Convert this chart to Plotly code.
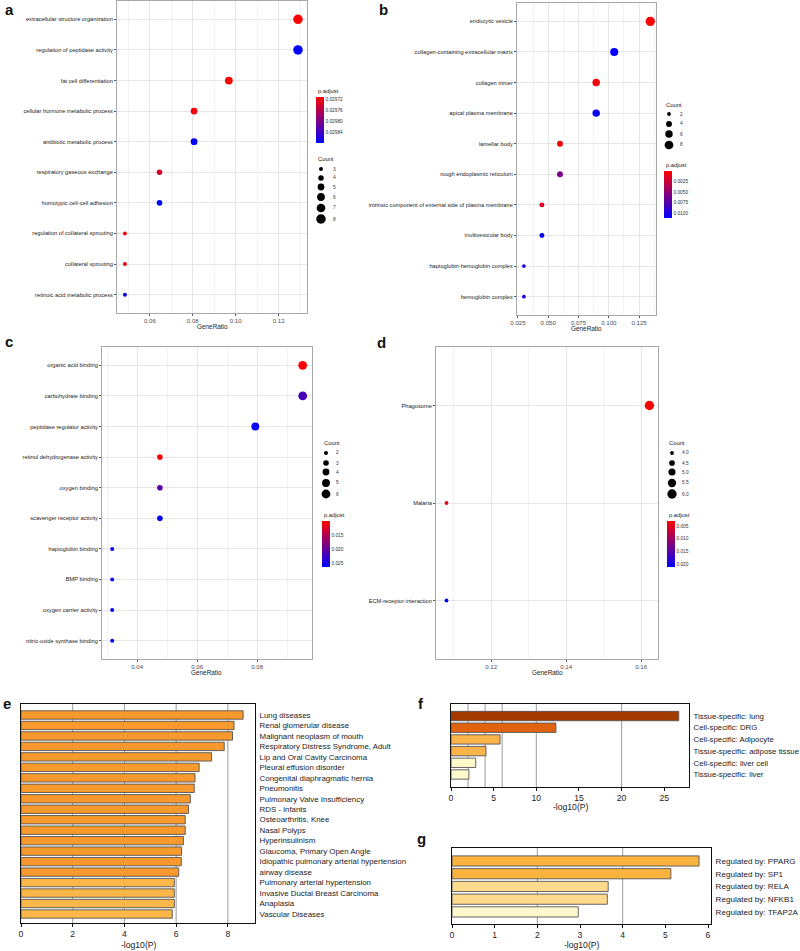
import math
import plotly.graph_objects as go

W, H = 800, 951
def px(x): return x / W
def py(y): return 1 - y / H

# ---------------- data ----------------
a_terms = ["extracellular structure organization", "regulation of peptidase activity",
           "fat cell differentiation", "cellular hormone metabolic process",
           "antibiotic metabolic process", "respiratory gaseous exchange",
           "homotypic cell-cell adhesion", "regulation of collateral sprouting",
           "collateral sprouting", "retinoic acid metabolic process"]
a_ratio = [0.1290, 0.1290, 0.0968, 0.0806, 0.0806, 0.0645, 0.0645, 0.0484, 0.0484, 0.0484]
a_count = [8, 8, 6, 5, 5, 4, 4, 3, 3, 3]
a_padj = [0.02971, 0.02988, 0.02971, 0.02972, 0.02988, 0.02974, 0.02988, 0.02972, 0.02972, 0.02987]
a_cbar_ticks = [0.02972, 0.02976, 0.02980, 0.02984]
a_size_ticks = [3, 4, 5, 6, 7, 8]

b_terms = ["endocytic vesicle", "collagen-containing extracellular matrix", "collagen trimer",
           "apical plasma membrane", "lamellar body", "rough endoplasmic reticulum",
           "intrinsic component of external side of plasma membrane", "multivesicular body",
           "haptoglobin-hemoglobin complex", "hemoglobin complex"]
b_ratio = [0.1343, 0.1045, 0.0896, 0.0896, 0.0597, 0.0597, 0.0448, 0.0448, 0.0299, 0.0299]
b_count = [9, 7, 6, 6, 4, 4, 3, 3, 2, 2]
b_padj = [0.0001, 0.0110, 0.0003, 0.0108, 0.0005, 0.0058, 0.0015, 0.0108, 0.0098, 0.0098]
b_cbar_ticks = [0.0025, 0.0050, 0.0075, 0.0100]
b_size_ticks = [2, 4, 6, 8]

c_terms = ["organic acid binding", "carbohydrate binding", "peptidase regulator activity",
           "retinol dehydrogenase activity", "oxygen binding", "scavenger receptor activity",
           "haptoglobin binding", "BMP binding", "oxygen carrier activity",
           "nitric-oxide synthase binding"]
c_ratio = [0.0952, 0.0952, 0.0794, 0.0476, 0.0476, 0.0476, 0.0317, 0.0317, 0.0317, 0.0317]
c_count = [6, 6, 5, 3, 3, 3, 2, 2, 2, 2]
c_padj = [0.0102, 0.0220, 0.0262, 0.0104, 0.0208, 0.0262, 0.0256, 0.0256, 0.0256, 0.0256]
c_cbar_ticks = [0.015, 0.020, 0.025]
c_size_ticks = [2, 3, 4, 5, 6]

d_terms = ["Phagosome", "Malaria", "ECM-receptor interaction"]
d_ratio = [0.1622, 0.1081, 0.1081]
d_count = [6, 4, 4]
d_padj = [0.0031, 0.0040, 0.0210]
d_cbar_ticks = [0.005, 0.010, 0.015, 0.020]
d_size_ticks = [4.0, 4.5, 5.0, 5.5, 6.0]

e_terms = ["Lung diseases", "Renal glomerular disease", "Malignant neoplasm of mouth",
           "Respiratory Distress Syndrome, Adult", "Lip and Oral Cavity Carcinoma",
           "Pleural effusion disorder", "Congenital diaphragmatic hernia", "Pneumonitis",
           "Pulmonary Valve Insufficiency", "RDS - infants", "Osteoarthritis, Knee",
           "Nasal Polyps", "Hyperinsulinism", "Glaucoma, Primary Open Angle",
           "Idiopathic pulmonary arterial hypertension", "airway disease",
           "Pulmonary arterial hypertension", "Invasive Ductal Breast Carcinoma",
           "Anaplasia", "Vascular Diseases"]
e_logp = [8.59, 8.24, 8.18, 7.86, 7.37, 6.89, 6.73, 6.70, 6.55, 6.48,
          6.35, 6.35, 6.28, 6.21, 6.20, 6.10, 5.93, 5.93, 5.93, 5.85]

f_terms = ["Tissue-specific: lung", "Cell-specific: DRG", "Cell-specific: Adipocyte",
           "Tissue-specific: adipose tissue", "Cell-specific: liver cell", "Tissue-specific: liver"]
f_logp = [26.7, 12.3, 5.75, 4.1, 2.9, 2.1]

g_terms = ["Regulated by: PPARG", "Regulated by: SP1", "Regulated by: RELA",
           "Regulated by: NFKB1", "Regulated by: TFAP2A"]
g_logp = [5.79, 5.13, 3.66, 3.64, 2.96]

# ---------------- styles ----------------
DOT_FONT = "Liberation Sans, Arial, sans-serif"
BAR_FONT = "Liberation Sans, Arial, sans-serif"

def dsize(c, cmin, cmax, dmin, dmax):
    t = (c - cmin) / (cmax - cmin)
    return math.sqrt(dmin ** 2 + t * (dmax ** 2 - dmin ** 2))

def e_color(v):
    return "#f7992c" if v >= 6 else "#fbb848"

def f_color(v):
    if v >= 20: return "#a33a02"
    if v >= 10: return "#e2630f"
    if v >= 4: return "#fbb44a"
    return "#fefacc"

def g_color(v):
    if v >= 4: return "#fbb340"
    if v >= 3: return "#fdda8c"
    return "#fff8cc"

fig = go.Figure()
shapes, annots = [], []
layout = dict(width=W, height=H, autosize=False,
              margin=dict(l=0, r=0, t=0, b=0, pad=0, autoexpand=False),
              paper_bgcolor="white", plot_bgcolor="white", showlegend=False)

panels = [
    dict(k="", terms=a_terms, ratio=a_ratio, count=a_count, padj=a_padj,
         box=(117, 1, 307, 313), xr=[0.0447, 0.1332], dt=0.02, fmt=".2f",
         cr=[0.029713, 0.02988], ct=a_cbar_ticks, ctfmt="{:.5f}", st=a_size_ticks, sfmt="{:d}",
         ss=(3, 8, 4.0, 9.5),
         cb=(316, 97, 143, 91), cnt=(316, 159, 321, 331, [169, 178, 187, 197, 208, 219])),
    dict(k="2", terms=b_terms, ratio=b_ratio, count=b_count, padj=b_padj,
         box=(517, 3, 656, 315), xr=[0.0242, 0.139], dt=0.025, fmt=".3f",
         cr=[0.0, 0.0112], ct=b_cbar_ticks, ctfmt="{:.4f}", st=b_size_ticks, sfmt="{:d}",
         ss=(2, 9, 3.8, 9.3),
         cb=(664, 171, 218, 165), cnt=(664, 105, 669, 678, [114, 124, 134, 145])),
    dict(k="3", terms=c_terms, ratio=c_ratio, count=c_count, padj=c_padj,
         box=(102, 347, 312, 659), xr=[0.0283, 0.0983], dt=0.02, fmt=".2f",
         cr=[0.0100, 0.0265], ct=c_cbar_ticks, ctfmt="{:.3f}", st=c_size_ticks, sfmt="{:d}",
         ss=(2, 6, 4.0, 8.8),
         cb=(322, 521, 567, 515), cnt=(322, 443, 326, 334, [453, 463, 472, 483, 494])),
    dict(k="4", terms=d_terms, ratio=d_ratio, count=d_count, padj=d_padj,
         box=(436, 347, 658, 659), xr=[0.1053, 0.1645], dt=0.02, fmt=".2f",
         cr=[0.0030, 0.0212], ct=d_cbar_ticks, ctfmt="{:.3f}", st=d_size_ticks, sfmt="{:.1f}",
         ss=(4, 6, 3.8, 9.3),
         cb=(667, 521, 567, 515), cnt=(667, 443, 672, 680, [453, 463, 472, 483, 494])),
]

for i, p in enumerate(panels):
    k = p["k"]
    ca = "coloraxis" + k
    l, t, r, b = p["box"]
    n = len(p["terms"])
    cmin, cmax, dmin, dmax = p["ss"]
    sizes = [dsize(c, cmin, cmax, dmin, dmax) for c in p["count"]]
    fig.add_trace(go.Scatter(
        x=p["ratio"], y=p["terms"], mode="markers",
        marker=dict(size=sizes, color=[-v for v in p["padj"]], coloraxis=ca,
                    opacity=1, line=dict(width=0)),
        xaxis="x" + k, yaxis="y" + k, hoverinfo="x+y"))
    layout["xaxis" + k] = dict(
        domain=[px(l), px(r)], range=p["xr"], anchor="y" + k, tick0=0, dtick=p["dt"],
        tickformat=p["fmt"], showgrid=True, gridcolor="#e6e6e6", gridwidth=1,
        minor=dict(dtick=p["dt"] / 2, tick0=0, showgrid=True, gridcolor="#f3f3f3", gridwidth=1),
        showline=True, mirror=True, linecolor="#a8a8a8", linewidth=1, automargin=False,
        ticks="outside", ticklen=2, tickwidth=0.6, tickcolor="#555",
        tickfont=dict(family=DOT_FONT, size=6.1, color="#4d4d4d"), zeroline=False)
    layout["yaxis" + k] = dict(
        domain=[py(b), py(t)], anchor="x" + k, type="category", automargin=False,
        categoryorder="array", categoryarray=p["terms"], range=[n - 1 + 0.6, -0.6],
        tickmode="array", tickvals=p["terms"], ticktext=p["terms"],
        showgrid=True, gridcolor="#e6e6e6", gridwidth=1,
        showline=True, mirror=True, linecolor="#a8a8a8", linewidth=1,
        ticks="outside", ticklen=2, tickwidth=0.6, tickcolor="#555",
        tickfont=dict(family=DOT_FONT, size=5.7, color="#222"), zeroline=False)
    annots.append(dict(x=px((l + r) / 2), y=py(b + 13), xref="paper", yref="paper",
                       text="GeneRatio", showarrow=False, xanchor="center", yanchor="middle",
                       font=dict(family=DOT_FONT, size=6.4, color="#222")))
    cbx, cbt, cbb, cbtitle = p["cb"]
    lo, hi = p["cr"]
    layout[ca] = dict(
        colorscale=[[0, "#0000ff"], [1, "#ff0000"]], cmin=-hi, cmax=-lo,
        colorbar=dict(x=px(cbx), xanchor="left", y=py(cbt), yanchor="top",
                      len=(cbb - cbt) / H, lenmode="fraction", thickness=8,
                      xpad=0, ypad=0, outlinewidth=0, ticks="",
                      tickvals=[-v for v in p["ct"]], ticktext=[p["ctfmt"].format(v) for v in p["ct"]],
                      tickfont=dict(family=DOT_FONT, size=4.8, color="#333")))
    annots.append(dict(x=px(cbx), y=py(cbtitle), xref="paper", yref="paper", text="p.adjust",
                       showarrow=False, xanchor="left", yanchor="middle",
                       font=dict(family=DOT_FONT, size=5.8, color="#222")))
    tx, ty, dx, lx, ys = p["cnt"]
    annots.append(dict(x=px(tx), y=py(ty), xref="paper", yref="paper", text="Count",
                       showarrow=False, xanchor="left", yanchor="middle",
                       font=dict(family=DOT_FONT, size=5.8, color="#222")))
    for c, yy in zip(p["st"], ys):
        rr = dsize(c, cmin, cmax, dmin, dmax) / 2
        shapes.append(dict(type="circle", xref="paper", yref="paper",
                           xsizemode="pixel", ysizemode="pixel",
                           xanchor=px(dx), yanchor=py(yy), x0=-rr, x1=rr, y0=-rr, y1=rr,
                           fillcolor="black", line=dict(width=0)))
        annots.append(dict(x=px(lx), y=py(yy), xref="paper", yref="paper",
                           text=p["sfmt"].format(c), showarrow=False, xanchor="left",
                           yanchor="middle", font=dict(family=DOT_FONT, size=4.8, color="#333")))

# ---------------- bar panels ----------------
bars = [
    dict(k="5", terms=e_terms, vals=e_logp, col=e_color, box=(21, 704, 255, 923),
         xr=[0, 9.05], dt=2, yr=[19.86, -1.05], guides=[2, 4, 6, 8], tt=22, lf=7.9),
    dict(k="6", terms=f_terms, vals=f_logp, col=f_color, box=(451, 704, 689, 787),
         xr=[0, 27.9], dt=5, yr=[6.07, -1.03], guides=[2, 4, 6, 10, 20], tt=20, lf=7.8),
    dict(k="7", terms=g_terms, vals=g_logp, col=g_color, box=(452, 848, 711, 924),
         xr=[0, 6.07], dt=1, yr=[4.95, -1.02], guides=[2, 4], tt=21, lf=8.1),
]
for p in bars:
    k = p["k"]
    l, t, r, b = p["box"]
    fig.add_trace(go.Bar(
        x=p["vals"], y=p["terms"], orientation="h", width=0.8,
        marker=dict(color=[p["col"](v) for v in p["vals"]], line=dict(color="#555555", width=0.9)),
        xaxis="x" + k, yaxis="y" + k, hoverinfo="x+y"))
    layout["xaxis" + k] = dict(
        domain=[px(l), px(r)], range=p["xr"], anchor="y" + k, dtick=p["dt"], tick0=0,
        showgrid=False, zeroline=False, showline=True, mirror=True, linecolor="#111", linewidth=1,
        ticks="outside", ticklen=3, tickwidth=1, tickcolor="#111", automargin=False,
        tickfont=dict(family=BAR_FONT, size=8.6, color="#222"))
    layout["yaxis" + k] = dict(
        domain=[py(b), py(t)], anchor="x" + k, type="category", side="right",
        categoryorder="array", categoryarray=p["terms"], range=p["yr"],
        tickmode="array", tickvals=p["terms"], ticktext=p["terms"], automargin=False,
        showgrid=False, zeroline=False, showline=True, mirror=True, linecolor="#111", linewidth=1,
        ticks="", ticklabelstandoff=2,
        tickfont=dict(family=BAR_FONT, size=p["lf"], color="#222"))
    for gx in p["guides"]:
        shapes.append(dict(type="line", xref="x" + k, yref="y" + k + " domain",
                           x0=gx, x1=gx, y0=0, y1=1, layer="below",
                           line=dict(color="#9a9a9a", width=1)))
    annots.append(dict(x=px((l + r) / 2), y=py(b + p["tt"]), xref="paper", yref="paper",
                       text="-log10(P)", showarrow=False, xanchor="center", yanchor="middle",
                       font=dict(family=BAR_FONT, size=8.6, color="#222")))

# ---------------- panel letters ----------------
for letter, x, y in [("a", 9, 9), ("b", 383, 9), ("c", 9, 341), ("d", 381, 342),
                     ("e", 7, 703), ("f", 421, 703), ("g", 421, 838)]:
    annots.append(dict(x=px(x), y=py(y), xref="paper", yref="paper", text="<b>%s</b>" % letter,
                       showarrow=False, xanchor="center", yanchor="middle",
                       font=dict(family="Liberation Sans, Arial, sans-serif", size=15, color="#111")))

layout["shapes"] = shapes
layout["annotations"] = annots
fig.update_layout(**layout)
fig.write_html("out.html", config={"displayModeBar": False, "responsive": False},
               post_script="document.body.style.margin='0px';document.body.style.overflow='hidden';")
